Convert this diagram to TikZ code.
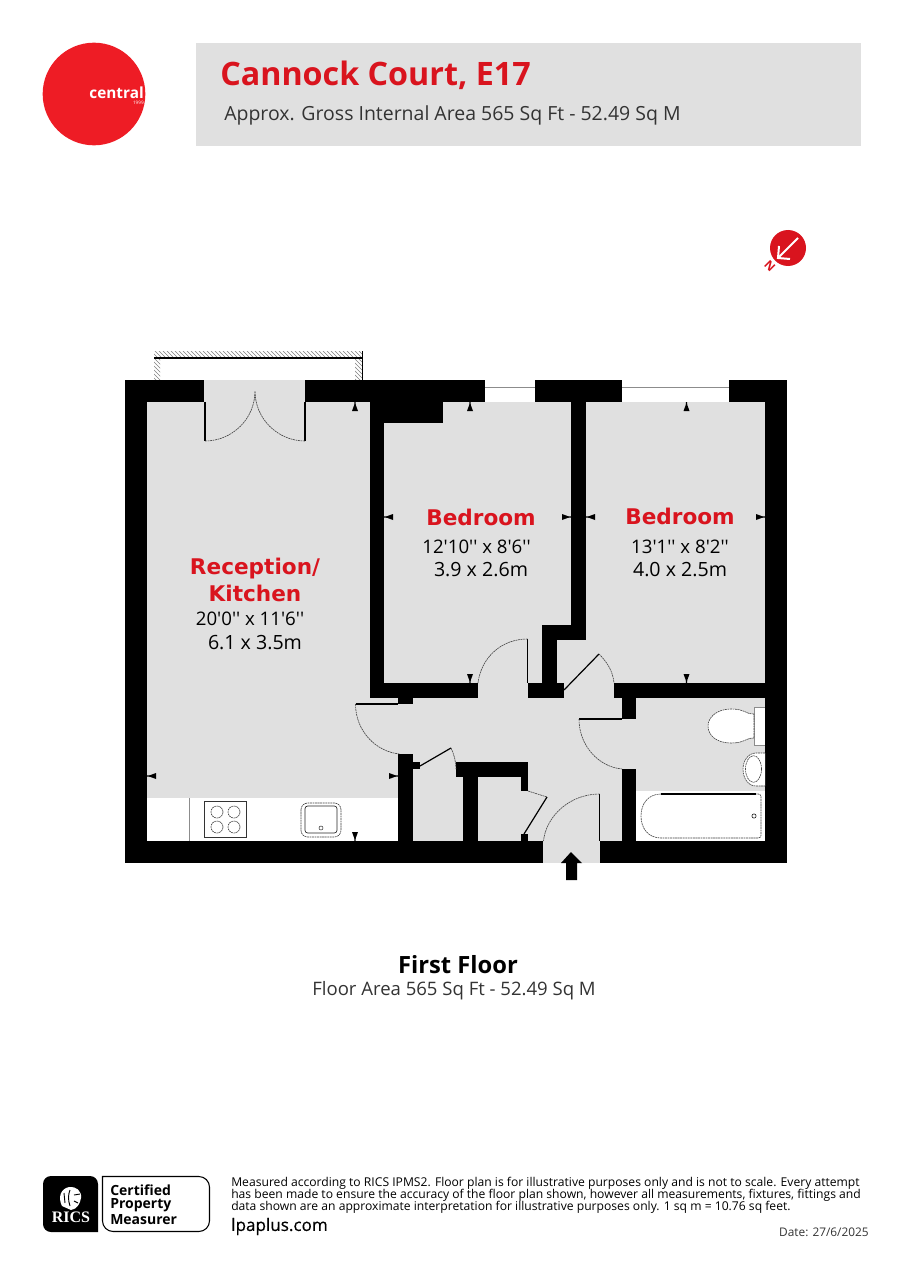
\documentclass[tikz,border=0pt]{standalone}
\usepackage{fontspec}
\setmainfont{Open Sans}
\newfontfamily\dimfont{Open Sans}
\newfontfamily\redfont{DejaVu Sans}
\newfontfamily\ricsfont{Liberation Serif}
\newfontfamily\webfont[FakeBold=0.4]{Open Sans}
\usetikzlibrary{patterns}
\definecolor{centralred}{HTML}{EE1C25}
\definecolor{labelred}{HTML}{D9141E}
\definecolor{floorgrey}{HTML}{E0E0E0}

\begin{document}
\begin{tikzpicture}[x=0.75pt, y=-0.75pt]
  \tikzstyle{w} = [fill=black];
  \tikzstyle{f} = [fill=floorgrey];
  \tikzstyle{h} = [pattern=north west lines, pattern color=black!50];
  \tikzstyle{s} = [line width=0.9pt, color=black];
  \tikzstyle{d} = [line width=0.45pt, color=black!75, dash pattern=on 1.4pt off 0.5pt];
  \tikzstyle{l} = [line width=0.6pt, color=black!45];
  \tikzstyle{room} = [font=\redfont\bfseries\fontsize{16.2}{18}\selectfont, color=labelred];
  \tikzstyle{dim} = [font=\dimfont\fontsize{14}{16}\selectfont];
  \tikzstyle{met} = [font=\dimfont\fontsize{14.7}{16}\selectfont];
  \tikzstyle{cert} = [anchor=west, inner sep=0pt, font=\bfseries\fontsize{10.5}{12}\selectfont];
  \tikzstyle{fine} = [anchor=west, inner sep=0pt, font=\fontsize{9.1}{10}\selectfont];

  \useasboundingbox (0, 0) rectangle (904, 1280);

  \fill[centralred] (94, 94) circle[radius=38.5pt];
  \node[color=white, anchor=east, inner sep=0pt, font=\bfseries\fontsize{11.5}{14}\selectfont] (central) at (144, 93) {central};
  \node[color=white, anchor=east, inner sep=0pt, font=\fontsize{3.5}{4}\selectfont] (since) at (144, 103) {1999};

  \fill[f] (196, 43) rectangle (861, 146);
  \node[color=labelred, anchor=west, inner sep=0pt, font=\bfseries\fontsize{24.2}{26}\selectfont] (title) at (220, 75.5) {Cannock Court, E17};
  \node[anchor=west, inner sep=0pt, color=black!80, font=\fontsize{14.6}{16}\selectfont] (area) at (224, 115) {Approx. Gross Internal Area 565 Sq Ft - 52.49 Sq M};

  \fill[labelred] (788, 248) circle[radius=13.5pt];
  \draw[line width=1.5pt, white] (798, 238) -- (779, 257);
  \draw[line width=1.5pt, white] (779, 246) -- (778, 258) -- (790, 259);
  \node[color=labelred, rotate=135, inner sep=0pt, font=\bfseries\fontsize{9}{10}\selectfont] (north) at (770, 266) {N};

  % balcony
  \fill[h] (154, 351) rectangle (362, 358);
  \fill[h] (154, 358) rectangle (160, 380);
  \fill[h] (355, 358) rectangle (362, 380);
  \draw[s] (154, 358) -- (362, 358);
  \draw[s] (362.5, 351) -- (362.5, 380);

  % floor
  \fill[f] (147, 402) rectangle (765, 841);
  \fill[f] (204, 380) rectangle (305, 402);
  \fill[f] (543, 841) rectangle (600, 863);
  \fill[white] (147, 798) rectangle (398, 841);
  \fill[white] (636, 791) rectangle (765, 841);

  % outer walls
  \fill[w] (125, 380) rectangle (147, 863);
  \fill[w] (765, 380) rectangle (787, 863);
  \fill[w] (125, 380) rectangle (204, 402);
  \fill[w] (305, 380) rectangle (485, 402);
  \fill[w] (535, 380) rectangle (622, 402);
  \fill[w] (729, 380) rectangle (787, 402);
  \fill[w] (125, 841) rectangle (543, 863);
  \fill[w] (600, 841) rectangle (787, 863);

  % inner walls
  \fill[w] (370, 402) rectangle (384, 698);
  \fill[w] (384, 402) rectangle (443, 423);
  \fill[w] (370, 683) rectangle (478, 698);
  \fill[w] (398, 698) rectangle (413, 704);
  \fill[w] (398, 754) rectangle (413, 841);
  \fill[w] (413, 762) rectangle (420, 769);
  \fill[w] (456, 762) rectangle (528, 777);
  \fill[w] (463, 777) rectangle (478, 841);
  \fill[w] (521, 777) rectangle (528, 791);
  \fill[w] (521, 834) rectangle (528, 841);
  \fill[w] (528, 683) rectangle (564, 698);
  \fill[w] (542, 625) rectangle (557, 683);
  \fill[w] (542, 625) rectangle (586, 640);
  \fill[w] (571, 402) rectangle (586, 640);
  \fill[w] (614, 683) rectangle (765, 698);
  \fill[w] (622, 698) rectangle (636, 719);
  \fill[w] (622, 769) rectangle (636, 841);

  % windows
  \draw[l] (485, 387) -- (535, 387);
  \draw[l] (622, 387) -- (729, 387);

  % doors
  \draw[s] (205, 402) -- (205, 441);
  \draw[s] (305, 402) -- (305, 441);
  \draw[d] (205, 441) .. controls (232, 441) and (255, 419) .. (255, 391);
  \draw[d] (305, 441) .. controls (278, 441) and (255, 419) .. (255, 391);
  \draw[s] (355.5, 704) -- (398, 704);
  \draw[d] (355.5, 704) .. controls (355.5, 731) and (376, 752) .. (400, 754);
  \draw[s] (420, 766) -- (451, 748);
  \draw[d] (451, 748) .. controls (454, 754) and (456, 762) .. (456, 769);
  \draw[s] (527.5, 639) -- (527.5, 683);
  \draw[d] (527.5, 639) .. controls (501, 639) and (481, 658) .. (478, 683);
  \draw[s] (564, 690) -- (599, 654);
  \draw[d] (599, 654) .. controls (608, 663) and (613, 672) .. (614, 683);
  \draw[s] (579, 719) -- (622, 719);
  \draw[d] (579, 719) .. controls (579, 746) and (599, 767) .. (622, 769);
  \draw[s] (547, 797) -- (524, 834);
  \draw[d] (528, 791) -- (547, 797);
  \draw[s] (599.5, 794) -- (599.5, 841);
  \draw[d] (599.5, 794) .. controls (570, 794) and (546, 816) .. (543.5, 841);

  % entrance
  \fill[w] (571, 852) -- (582, 863) -- (577, 863) -- (577, 880) -- (566, 880) -- (566, 863) -- (561, 863) -- cycle;

  % kitchen
  \draw[l] (189, 798) -- (189, 841);
  \draw[line width=0.5pt, black!80] (204, 801) rectangle (246, 837);
  \foreach \bx in {217, 234} {
    \foreach \by in {812, 827} {
      \draw[d] (\bx, \by) circle[radius=4.5pt];
    }
  }
  \draw[d, rounded corners=5pt] (301, 803) rectangle (341, 837);
  \draw[line width=0.5pt, black!85, rounded corners=2pt] (305, 806) rectangle (337, 833);
  \draw[line width=0.4pt, black!80] (321, 828) circle[radius=1.5pt];

  % bathroom
  \fill[white] (754, 707) rectangle (765, 745);
  \draw[l] (754, 707) -- (754, 745) -- (765, 745);
  \draw[l] (754, 707) -- (765, 707);
  \fill[white, draw=black!75, line width=0.45pt, dash pattern=on 1.4pt off 0.5pt] (754, 714) .. controls (745, 714) and (745, 709) .. (731, 709) .. controls (716, 709) and (708, 718) .. (708, 726) .. controls (708, 735) and (716, 743) .. (731, 743) .. controls (745, 743) and (745, 738) .. (754, 738) -- cycle;
  \fill[white, draw=black!75, line width=0.45pt, dash pattern=on 1.4pt off 0.5pt] (765, 753) -- (756, 753) .. controls (748, 753) and (743, 761) .. (743, 769) .. controls (743, 778) and (748, 786) .. (756, 786) -- (765, 786);
  \draw[d] (753.5, 769) ellipse[x radius=6pt, y radius=10pt];
  \draw[d, rounded corners=2pt] (661, 794) -- (761, 794) -- (761, 838) -- (661, 838);
  \draw[d] (661, 794) .. controls (648, 794) and (641, 804) .. (641, 816) .. controls (641, 828) and (648, 838) .. (661, 838);
  \draw[s] (661, 794) -- (756, 794);
  \draw[line width=0.4pt, black] (754, 816) circle[radius=1.6pt];

  % ticks
  \foreach \px/\py/\ra in {355/402/0, 470/402/0, 686.5/402/0, 384/517/90, 571/517/-90, 586/517/90, 765/517/-90, 470/683/180, 686.5/683/180, 355/841/180, 147/776/90, 398/776/-90} {
    \fill[black, shift={(\px, \py)}, rotate=\ra] (-0.5, 0) -- (0.5, 0) -- (0.8, 3) -- (3, 9) -- (-3, 9) -- (-0.8, 3) -- cycle;
  }

  % rooms
  \node[room] (r1) at (255, 569) {Reception/};
  \node[room] (r2) at (255, 593) {Kitchen};
  \node[dim] (r3) at (250, 618.5) {20'0'' x 11'6''};
  \node[met] (r4) at (255, 642.5) {6.1 x 3.5m};
  \node[room] (b1) at (481, 517.5) {Bedroom};
  \node[dim] (b2) at (476.5, 546.5) {12'10'' x 8'6''};
  \node[met] (b3) at (481, 569.5) {3.9 x 2.6m};
  \node[room] (c1) at (680, 516.5) {Bedroom};
  \node[dim] (c2) at (680, 546.5) {13'1'' x 8'2''};
  \node[met] (c3) at (680, 569.5) {4.0 x 2.5m};

  \node[inner sep=0pt, font=\bfseries\fontsize{17.8}{20}\selectfont] (floor) at (458, 965) {First Floor};
  \node[inner sep=0pt, color=black!80, font=\fontsize{13.9}{16}\selectfont] (floorarea) at (454, 991) {Floor Area 565 Sq Ft - 52.49 Sq M};

  % footer
  \fill[black, rounded corners=6pt] (98, 1232) -- (43, 1232) -- (43, 1176) -- (98, 1176) [sharp corners] -- cycle;
  \draw[line width=0.8pt, black, rounded corners=8pt] (102.5, 1176.5) -- (102.5, 1231.5) -- (209.5, 1231.5) -- (209.5, 1176.5) [sharp corners] -- cycle;
  \fill[white] (62, 1206) .. controls (58, 1198) and (60, 1189) .. (69, 1187) .. controls (76, 1186) and (82, 1191) .. (81, 1198) .. controls (80, 1204) and (77, 1209) .. (71, 1210) -- cycle;
  \draw[black, line width=0.7pt] (70, 1190) .. controls (68, 1195) and (68, 1200) .. (70, 1206);
  \draw[black, line width=0.7pt] (74, 1195) -- (80, 1194);
  \draw[black, line width=0.7pt] (74, 1201) -- (78, 1203);
  \draw[black, line width=0.7pt] (64, 1193) -- (65, 1203);
  \node[color=white, inner sep=0pt, font=\ricsfont\bfseries\fontsize{12}{14}\selectfont] (rics) at (71, 1217.5) {RICS};
  \node[cert] (cert1) at (110, 1190) {Certified};
  \node[cert] (cert2) at (110, 1205) {Property};
  \node[cert] (cert3) at (110, 1219.5) {Measurer};
  \node[fine] (fine1) at (231, 1183) {Measured according to RICS IPMS2. Floor plan is for illustrative purposes only and is not to scale. Every attempt};
  \node[fine] (fine2) at (231, 1195) {has been made to ensure the accuracy of the floor plan shown, however all measurements, fixtures, fittings and};
  \node[fine] (fine3) at (231, 1207) {data shown are an approximate interpretation for illustrative purposes only. 1 sq m = 10.76 sq feet.};
  \node[anchor=west, inner sep=0pt, font=\webfont\fontsize{12.8}{14}\selectfont] (web) at (231, 1226.5) {lpaplus.com};
  \node[anchor=east, inner sep=0pt, color=black!80, font=\fontsize{8.9}{10}\selectfont] (date) at (869, 1232) {Date: 27/6/2025};
\end{tikzpicture}
\end{document}
